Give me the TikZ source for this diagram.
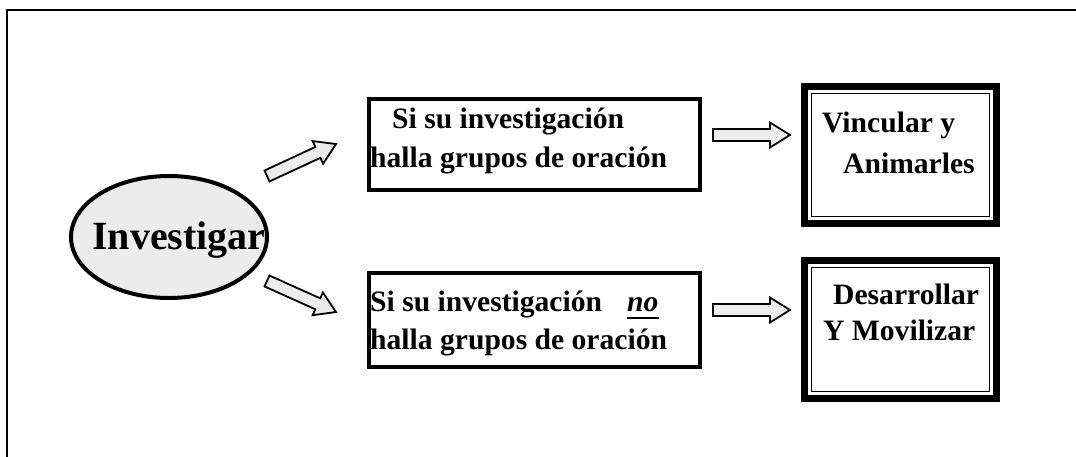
\documentclass[tikz,border=0pt]{standalone}
\usepackage{fontspec}
\setmainfont{Liberation Serif}
\usetikzlibrary{calc,shapes.geometric}
\definecolor{lgray}{RGB}{236,236,236}
\tikzset{
  txt/.style={inner sep=0pt, anchor=base west, font=\fontsize{29.6}{34}\selectfont\bfseries},
  plainbox/.style={draw=black, line width=3.2pt, inner sep=0pt},
  dblbox/.style={draw=black, line width=7pt, inner sep=0pt, outer sep=0pt, minimum width=192pt},
  innerline/.style={line width=1.5pt},
  blockarrow/.style={draw=black, line width=1.8pt, fill=lgray, line join=miter,
    to path={
      ($(\tikztostart)!6pt!90:(\tikztotarget)$)
      -- ($($(\tikztotarget)!20pt!(\tikztostart)$)!6pt!-90:(\tikztostart)$)
      -- ($($(\tikztotarget)!20pt!(\tikztostart)$)!12.5pt!-90:(\tikztostart)$)
      -- (\tikztotarget)
      -- ($($(\tikztotarget)!20pt!(\tikztostart)$)!12.5pt!90:(\tikztostart)$)
      -- ($($(\tikztotarget)!20pt!(\tikztostart)$)!6pt!90:(\tikztostart)$)
      -- ($(\tikztostart)!6pt!-90:(\tikztotarget)$)
      -- cycle}},
}
\begin{document}
\begin{tikzpicture}[x=1pt,y=-1pt]
\useasboundingbox (0,0) rectangle (1076,456);
% outer frame
\draw[line width=2.6pt] (7,458) -- (7,10) -- (1078,10);

% central ellipse
\node[ellipse, draw=black, line width=4pt, fill=lgray, minimum width=196pt, minimum height=122pt, inner sep=0pt] (inv) at (169,237) {};
\node[inner sep=0pt, anchor=base, font=\fontsize{40}{46}\selectfont\bfseries] (invtxt) at (179,249) {Investigar};

% middle boxes
\node[plainbox, minimum width=331pt, minimum height=91pt] (b1) at (534.5,144.5) {};
\node[plainbox, minimum width=331pt, minimum height=94pt] (b2) at (534.5,320) {};

\node[txt] (b1l1) at (392,128) {Si su investigación};
\node[txt] (b1l2) at (370,167) {halla grupos de oración};
\node[txt] (b2l1) at (370,311) {Si su investigación};
\node[txt, font=\fontsize{29.6}{34}\selectfont\bfseries\itshape] (no) at (627,311) {no};
\draw[line width=2.6pt] ([yshift=-7pt]no.base west) -- ([yshift=-7pt]no.base east);
\node[txt] (b2l2) at (370,349) {halla grupos de oración};

% right double-framed boxes
\node[dblbox, minimum height=137pt] (r1) at (900.5,155) {};
\draw[innerline] ([shift={(7pt,-7pt)}]r1.north west) rectangle ([shift={(-7pt,7pt)}]r1.south east);
\node[dblbox, minimum height=138pt] (r2) at (900.5,329.5) {};
\draw[innerline] ([shift={(7pt,-7pt)}]r2.north west) rectangle ([shift={(-7pt,7pt)}]r2.south east);

\node[txt] (r1l1) at (822,132) {Vincular y};
\node[txt] (r1l2) at (843,173) {Animarles};
\node[txt] (r2l1) at (833,304) {Desarrollar};
\node[txt] (r2l2) at (823,340) {Y Movilizar};

% arrows
\coordinate (a1s) at (267,176);
\coordinate (a1e) at (336,144);
\coordinate (a2s) at (267,281);
\coordinate (a2e) at (336,312);
\coordinate (h1s) at (713,135);
\coordinate (h1e) at (790,135);
\coordinate (h2s) at (713,310);
\coordinate (h2e) at (790,310);
\draw[blockarrow] (a1s) to (a1e);
\draw[blockarrow] (a2s) to (a2e);
\draw[blockarrow] (h1s) to (h1e);
\draw[blockarrow] (h2s) to (h2e);
\end{tikzpicture}
\end{document}
